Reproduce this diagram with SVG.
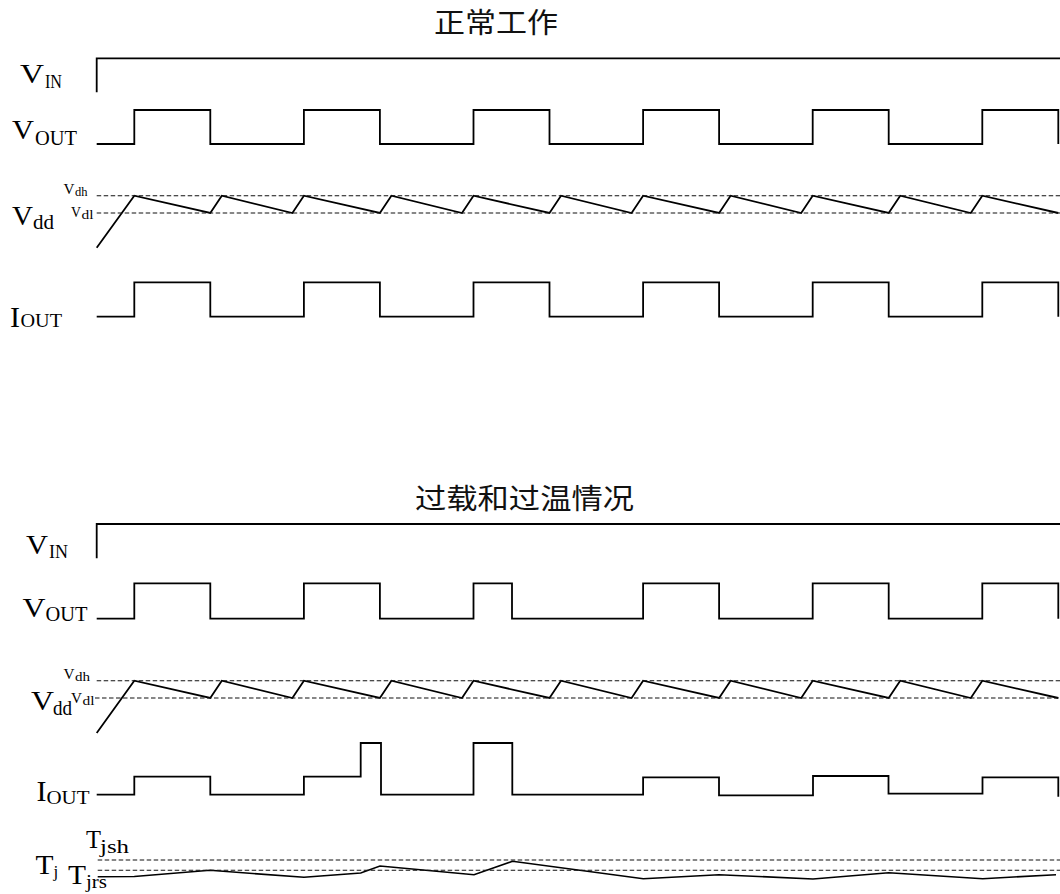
<svg xmlns="http://www.w3.org/2000/svg" width="1060" height="894" viewBox="0 0 1060 894">
<style>
.w{fill:none;stroke:#000;stroke-width:1.8;stroke-linejoin:miter}
.tj{fill:none;stroke:#000;stroke-width:1.6}
.d{fill:none;stroke:#111;stroke-width:1.1;stroke-dasharray:4.5 2.5}
.t{font-family:"Liberation Serif","Times New Roman",serif;fill:#000}
.cn{font-family:"Noto Sans CJK SC","Noto Sans CJK JP",sans-serif;font-size:28px;fill:#111}
</style>
<rect width="1060" height="894" fill="#fff"/>

<g id="title-normal"><text class="cn" x="434" y="33" textLength="124" lengthAdjust="spacingAndGlyphs">正常工作</text></g>

<g id="vin-top">
<text class="t" x="20" y="82.5" font-size="27" textLength="24" lengthAdjust="spacingAndGlyphs">V</text>
<text class="t" x="45" y="88" font-size="18" textLength="17" lengthAdjust="spacingAndGlyphs">IN</text>
<path class="w" d="M96.7,92.3 V58.3 H1060"/>
</g>
<g id="vout-top">
<text class="t" x="12" y="139" font-size="28" textLength="22" lengthAdjust="spacingAndGlyphs">V</text>
<text class="t" x="35" y="144.5" font-size="20" textLength="42" lengthAdjust="spacingAndGlyphs">OUT</text>
<path class="w" d="M96.7,144 H134.3 V110 H210.3 V144 H303.9 V110 H379.9 V144 H473.5 V110 H549.5 V144 H643.1 V110 H719.1 V144 H812.7 V110 H888.7 V144 H982.3 V110 H1058.3 V144"/>
</g>
<g id="vdd-top">
<text class="t" x="12" y="224.5" font-size="28" textLength="21" lengthAdjust="spacingAndGlyphs">V</text>
<text class="t" x="33" y="229" font-size="20" textLength="21" lengthAdjust="spacingAndGlyphs">dd</text>
<text class="t" x="63.5" y="193.5" font-size="14.5" textLength="11" lengthAdjust="spacingAndGlyphs">V</text>
<text class="t" x="75" y="196" font-size="12.5" textLength="12.5" lengthAdjust="spacingAndGlyphs">dh</text>
<text class="t" x="71" y="216.5" font-size="14.5" textLength="10" lengthAdjust="spacingAndGlyphs">V</text>
<text class="t" x="81.5" y="218.5" font-size="12.5" textLength="12" lengthAdjust="spacingAndGlyphs">dl</text>
<path class="w" d="M96.7,247.7 L134.3,195.7 L210.3,213 L221.8,195.7 L292.4,213 L303.9,195.7 L379.9,213 L391.4,195.7 L462,213 L473.5,195.7 L549.5,213 L561,195.7 L631.6,213 L643.1,195.7 L719.1,213 L730.6,195.7 L801.2,213 L812.7,195.7 L888.7,213 L900.2,195.7 L970.8,213 L982.3,195.7 L1058.3,213"/>
</g>
<g id="iout-top">
<text class="t" x="10" y="326.5" font-size="30">I</text>
<text class="t" x="20.5" y="327" font-size="19" textLength="41.5" lengthAdjust="spacingAndGlyphs">OUT</text>
<path class="w" d="M96.7,316.7 H134.3 V282.3 H210.3 V316.7 H303.9 V282.3 H379.9 V316.7 H473.5 V282.3 H549.5 V316.7 H643.1 V282.3 H719.1 V316.7 H812.7 V282.3 H888.7 V316.7 H982.3 V282.3 H1058.3 V316.7"/>
</g>

<g id="title-overload"><text class="cn" x="415" y="509" textLength="219" lengthAdjust="spacingAndGlyphs">过载和过温情况</text></g>

<g id="vin-bottom">
<text class="t" x="26" y="553.5" font-size="27" textLength="22" lengthAdjust="spacingAndGlyphs">V</text>
<text class="t" x="49" y="558" font-size="18" textLength="19" lengthAdjust="spacingAndGlyphs">IN</text>
<path class="w" d="M96.7,558.3 V524 H1060"/>
</g>
<g id="vout-bottom">
<text class="t" x="22.5" y="617" font-size="28" textLength="23" lengthAdjust="spacingAndGlyphs">V</text>
<text class="t" x="45.5" y="620.5" font-size="20" textLength="42" lengthAdjust="spacingAndGlyphs">OUT</text>
<path class="w" d="M96.7,618.7 H134.3 V583.3 H210.3 V618.7 H303.9 V583.3 H379.9 V618.7 H473.5 V583.3 H512 V618.7 H643.1 V583.3 H719.1 V618.7 H812.7 V583.3 H888.7 V618.7 H982.3 V583.3 H1058.3 V618.7"/>
</g>
<g id="vdd-bottom">
<text class="t" x="63.5" y="679" font-size="14.5" textLength="11" lengthAdjust="spacingAndGlyphs">V</text>
<text class="t" x="75" y="681" font-size="12.5" textLength="15" lengthAdjust="spacingAndGlyphs">dh</text>
<text class="t" x="31" y="710" font-size="28" textLength="23" lengthAdjust="spacingAndGlyphs">V</text>
<text class="t" x="53" y="714.5" font-size="20" textLength="19" lengthAdjust="spacingAndGlyphs">dd</text>
<text class="t" x="71" y="702.5" font-size="14.5" textLength="11" lengthAdjust="spacingAndGlyphs">V</text>
<text class="t" x="82.5" y="704.5" font-size="12.5" textLength="12" lengthAdjust="spacingAndGlyphs">dl</text>
<path class="w" d="M96.7,733 L134.3,680.7 L210.3,698 L221.8,680.7 L292.4,698 L303.9,680.7 L379.9,698 L391.4,680.7 L462,698 L473.5,680.7 L549.5,698 L561,680.7 L631.6,698 L643.1,680.7 L719.1,698 L730.6,680.7 L801.2,698 L812.7,680.7 L888.7,698 L900.2,680.7 L970.8,698 L982.3,680.7 L1058.3,698"/>
</g>
<g id="iout-bottom">
<text class="t" x="36.5" y="800.5" font-size="30">I</text>
<text class="t" x="46.5" y="804" font-size="18" textLength="43" lengthAdjust="spacingAndGlyphs">OUT</text>
<path class="w" d="M96.7,794.7 H134.3 V776.7 H210.3 V794.7 H303.9 V776.7 H360.7 V743 H381 V794.7 H473.5 V743 H512.3 V794.7 H643.1 V777.3 H719 V795.3 H813 V776 H888.5 V793.7 H982.5 V777.3 H1058.3 V796.7"/>
</g>
<g id="tj">
<text class="t" x="86" y="847.5" font-size="26" textLength="15" lengthAdjust="spacingAndGlyphs">T</text>
<text class="t" x="100" y="852.5" font-size="18" textLength="29" lengthAdjust="spacingAndGlyphs">jsh</text>
<text class="t" x="35.5" y="873.5" font-size="28" textLength="18" lengthAdjust="spacingAndGlyphs">T</text>
<text class="t" x="53.5" y="877" font-size="17">j</text>
<text class="t" x="68" y="884" font-size="28" textLength="18" lengthAdjust="spacingAndGlyphs">T</text>
<text class="t" x="86" y="888" font-size="18" textLength="21" lengthAdjust="spacingAndGlyphs">jrs</text>
<path class="tj" d="M97.7,876.7 L134.3,876.5 L210,870.3 L304,877.3 L360.7,873 L380,866 L474,874.7 L512.5,861.3 L643.3,878.7 L719,874.7 L813,879 L888.7,872.7 L982.7,878.7 L1056,874.7"/>
</g>

<g id="connectors">
<path class="d" d="M96.7,195.7 H1060 M96.7,213 H1060"/>
<path class="d" d="M96.7,680.7 H1060 M95,698 H1060"/>
<path class="d" d="M97.7,860 H1060 M97.7,870.3 H1060"/>
</g>
</svg>
